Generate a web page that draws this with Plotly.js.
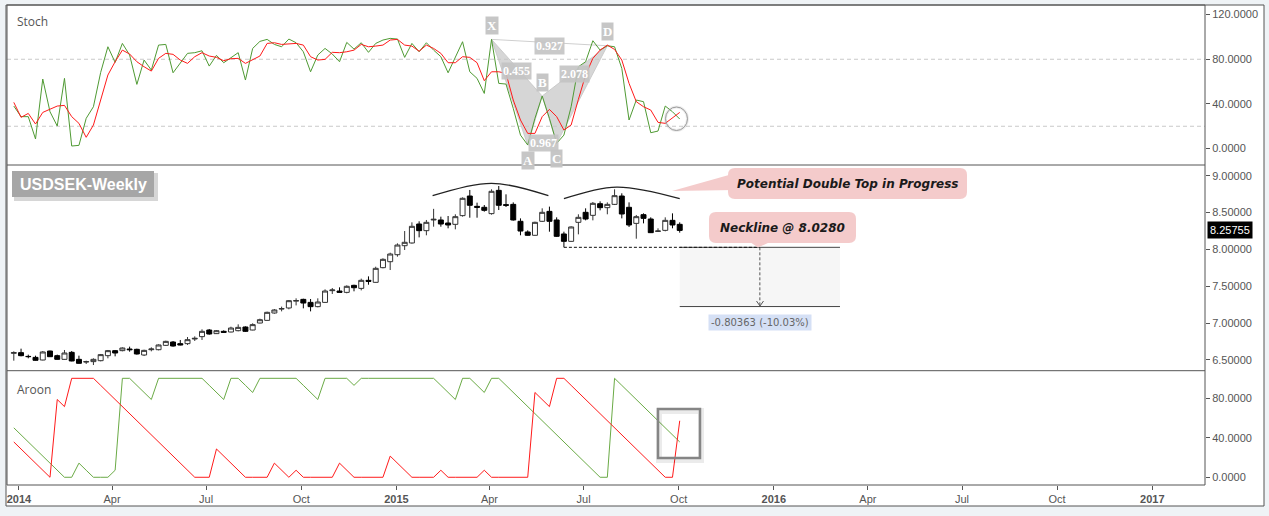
<!DOCTYPE html>
<html><head><meta charset="utf-8">
<script src="https://cdn.plot.ly/plotly-3.0.1.min.js"></script>
<style>html,body{margin:0;padding:0;background:#eff3f6;}#chart{width:1269px;height:516px;}</style>
</head><body><div id="chart"></div>
<script>
// ---------- DATA ----------
const dates = ['2013-12-27','2014-01-03','2014-01-10','2014-01-17','2014-01-24','2014-01-31','2014-02-07','2014-02-14','2014-02-21','2014-02-28',
'2014-03-07','2014-03-14','2014-03-21','2014-03-28','2014-04-04','2014-04-11','2014-04-18','2014-04-25','2014-05-02','2014-05-09',
'2014-05-16','2014-05-23','2014-05-30','2014-06-06','2014-06-13','2014-06-20','2014-06-27','2014-07-04','2014-07-11','2014-07-18',
'2014-07-25','2014-08-01','2014-08-08','2014-08-15','2014-08-22','2014-08-29','2014-09-05','2014-09-12','2014-09-19','2014-09-26',
'2014-10-03','2014-10-10','2014-10-17','2014-10-24','2014-10-31','2014-11-07','2014-11-14','2014-11-21','2014-11-28','2014-12-05',
'2014-12-12','2014-12-19','2014-12-26','2015-01-02','2015-01-09','2015-01-16','2015-01-23','2015-01-30','2015-02-06','2015-02-13',
'2015-02-20','2015-02-27','2015-03-06','2015-03-13','2015-03-20','2015-03-27','2015-04-03','2015-04-10','2015-04-17','2015-04-24',
'2015-05-01','2015-05-08','2015-05-15','2015-05-22','2015-05-29','2015-06-05','2015-06-12','2015-06-19','2015-06-26','2015-07-03',
'2015-07-10','2015-07-17','2015-07-24','2015-07-31','2015-08-07','2015-08-14','2015-08-21','2015-08-28','2015-09-04','2015-09-11',
'2015-09-18','2015-09-25','2015-10-02'];

const open = [6.590,6.599,6.548,6.535,6.499,6.621,6.558,6.508,6.603,6.508,
6.472,6.477,6.490,6.558,6.626,6.626,6.648,6.644,6.567,6.639,
6.639,6.698,6.743,6.721,6.721,6.784,6.816,6.906,6.857,6.888,
6.879,6.897,6.947,6.906,7.001,7.037,7.137,7.191,7.205,7.298,
7.322,7.281,7.223,7.281,7.440,7.435,7.417,7.512,7.471,7.580,
7.553,7.752,7.833,7.928,8.050,8.087,8.344,8.254,8.399,8.399,
8.358,8.340,8.458,8.724,8.584,8.571,8.485,8.801,8.607,8.611,
8.381,8.236,8.191,8.381,8.516,8.399,8.209,8.109,8.367,8.503,
8.462,8.620,8.566,8.611,8.724,8.571,8.353,8.471,8.412,8.245,
8.258,8.394,8.340];
const high = [6.617,6.653,6.572,6.558,6.621,6.626,6.572,6.635,6.621,6.558,
6.490,6.522,6.581,6.635,6.635,6.671,6.680,6.653,6.639,6.671,
6.712,6.761,6.757,6.771,6.811,6.820,6.915,6.920,6.906,6.902,
6.951,6.983,6.956,6.997,7.060,7.155,7.191,7.223,7.313,7.336,
7.331,7.327,7.336,7.458,7.476,7.485,7.512,7.521,7.603,7.634,
7.765,7.879,7.955,8.082,8.249,8.367,8.381,8.399,8.550,8.444,
8.453,8.476,8.706,8.806,8.634,8.602,8.815,8.860,8.747,8.638,
8.421,8.258,8.376,8.557,8.580,8.435,8.240,8.313,8.476,8.557,
8.643,8.652,8.638,8.815,8.761,8.638,8.467,8.489,8.435,8.286,
8.435,8.489,8.367];
const low = [6.490,6.549,6.522,6.490,6.495,6.540,6.504,6.504,6.481,6.449,
6.445,6.431,6.481,6.522,6.549,6.617,6.612,6.572,6.553,6.617,
6.630,6.689,6.680,6.698,6.703,6.757,6.771,6.843,6.852,6.870,
6.875,6.888,6.879,6.902,6.997,7.033,7.128,7.159,7.187,7.240,
7.200,7.159,7.214,7.277,7.395,7.413,7.404,7.431,7.444,7.521,
7.548,7.743,7.720,7.901,7.992,8.078,8.163,8.191,8.308,8.308,
8.286,8.272,8.444,8.430,8.430,8.512,8.471,8.534,8.575,8.390,
8.191,8.186,8.186,8.372,8.240,8.168,8.028,8.105,8.204,8.394,
8.394,8.530,8.476,8.602,8.421,8.304,8.145,8.353,8.222,8.236,
8.245,8.286,8.227];
const close = [6.599,6.558,6.545,6.495,6.608,6.544,6.508,6.594,6.486,6.454,
6.477,6.508,6.572,6.626,6.594,6.662,6.639,6.581,6.630,6.648,
6.703,6.752,6.689,6.703,6.775,6.793,6.888,6.852,6.897,6.875,
6.933,6.942,6.888,6.979,7.046,7.146,7.178,7.196,7.304,7.306,
7.272,7.223,7.286,7.435,7.449,7.417,7.499,7.480,7.580,7.566,
7.743,7.865,7.937,8.059,8.096,8.313,8.254,8.367,8.408,8.344,
8.331,8.444,8.693,8.598,8.571,8.530,8.788,8.598,8.598,8.399,
8.249,8.191,8.367,8.503,8.381,8.177,8.109,8.304,8.435,8.412,
8.625,8.566,8.611,8.729,8.480,8.331,8.444,8.421,8.227,8.249,
8.394,8.331,8.25755];

const stochK = [38.1,28.6,28.6,8.6,62.3,33.0,20.2,62.9,2.3,2.9,
27.1,37.5,68.2,91.2,77.2,94.2,83.8,57.5,79.3,70.3,
92.7,93.3,67.9,76.3,85.3,85.9,87.6,73.9,83.5,76.9,
81.7,85.9,61.4,89.7,96.0,97.8,93.3,91.2,98.1,94.8,
86.7,68.8,83.8,89.7,84.7,77.8,95.1,89.1,94.8,86.2,
94.2,97.2,98.7,98.1,81.7,94.2,86.7,94.8,88.2,82.3,
67.9,82.3,95.7,68.8,62.9,49.4,97.8,58.4,57.8,36.0,
12.1,3.2,27.1,47.1,27.1,4.7,12.1,37.5,73.3,77.8,
96.6,88.2,92.1,91.2,71.8,25.6,43.5,42.0,14.2,15.7,
38.1,33.0,26.5];
const stochD = [41.4,28.0,31.5,22.0,32.4,35.1,38.1,38.7,28.6,22.6,
10.1,21.1,43.5,65.9,77.8,88.2,84.7,77.8,73.3,69.4,
80.8,85.3,84.4,79.3,76.3,82.3,85.9,82.9,81.7,78.7,
80.5,80.8,76.3,79.3,82.9,94.2,94.8,93.3,93.6,94.2,
92.7,82.3,79.3,79.9,86.2,85.9,86.7,88.2,93.3,91.2,
91.8,92.7,97.2,97.8,92.7,91.8,87.2,92.7,89.7,85.3,
76.9,76.9,82.3,81.7,76.9,60.8,68.8,68.8,67.4,43.5,
25.6,13.6,13.6,28.6,35.1,28.6,16.6,21.1,44.1,65.9,
80.8,88.2,92.7,88.8,79.3,58.4,42.0,37.5,34.5,23.5,
22.6,27.4,32.4];

const aroonUp = [50,42.9,35.7,28.6,21.4,14.3,7.1,0,0,14.3,
7.1,0,0,0,7.1,100,100,92.9,85.7,78.6,
100,100,100,100,100,100,100,92.9,85.7,78.6,
100,100,92.9,85.7,100,100,100,100,100,100,
92.9,85.7,78.6,100,100,100,100,92.9,100,100,
100,100,100,100,100,100,100,100,100,92.9,
85.7,78.6,100,100,92.9,85.7,100,100,92.9,85.7,
78.6,71.4,64.3,57.1,50,42.9,35.7,28.6,21.4,14.3,
7.1,0,0,100,92.9,85.7,78.6,71.4,64.3,57.1,
50,42.9,35.7];
const aroonDown = [35.7,28.6,21.4,14.3,7.1,0,78.6,71.4,100,100,
100,100,92.9,85.7,78.6,71.4,64.3,57.1,50,42.9,
35.7,28.6,21.4,14.3,7.1,0,0,0,28.6,21.4,
14.3,7.1,0,0,0,0,14.3,7.1,0,7.1,
0,0,0,0,0,14.3,7.1,0,0,0,
0,0,21.4,14.3,7.1,0,0,0,0,7.1,
0,0,0,0,0,7.1,0,0,0,0,
0,0,85.7,78.6,71.4,100,100,92.9,85.7,78.6,
71.4,64.3,57.1,50,42.9,35.7,28.6,21.4,14.3,7.1,
0,0,57.1];

const xTickVals = ['2014-01-01','2014-04-01','2014-07-01','2014-10-01','2015-01-01','2015-04-01','2015-07-01','2015-10-01',
'2016-01-01','2016-04-01','2016-07-01','2016-10-01','2017-01-01'];
const xTickText = ['<b>2014</b>','Apr','Jul','Oct','<b>2015</b>','Apr','Jul','Oct','<b>2016</b>','Apr','Jul','Oct','<b>2017</b>'];
const stochTicks = [0,40,80,120];
const stochLevels = [20,80];
const priceTicks = [6.5,7.0,7.5,8.0,8.5,9.0];
const aroonTicks = [0,40,80];

const necklineValue = 8.0280;
const targetMove = -0.80363;
const targetPct = -10.03;
const measureDates = ['2015-10-02','2016-03-05'];

const patternNames = ['X','A','B','C','D'];
const patternIdx = [66,71,73,75,82];
const patternRatios = ['0.927','0.455','2.078','0.967'];
const patternRatioLegs = [['X','D'],['X','B'],['B','D'],['A','C']];

const arc1Dates = ['2015-02-05','2015-04-03','2015-05-28'];
const arc1Prices = [8.728,8.897,8.728];
const arc2Dates = ['2015-06-12','2015-08-02','2015-10-02'];
const arc2Prices = [8.688,8.846,8.688];

const titleText = 'USDSEK-Weekly';
const calloutTop = 'Potential Double Top in Progress';

// ---------- helpers (reference pixel -> paper) ----------
const L0 = 7, PW = 1198, T0 = 5, PH = 480;
const px = x => (x - L0) / PW;
const py = y => (T0 + PH - y) / PH;
function roundRect(x0, y0, x1, y1, r) {
  const a = px(x0), b = px(x1), c = py(y0), d = py(y1);
  const rx = r / PW, ry = r / PH;
  return `M${a+rx},${c} L${b-rx},${c} Q${b},${c} ${b},${c-ry} L${b},${d+ry} Q${b},${d} ${b-rx},${d} L${a+rx},${d} Q${a},${d} ${a},${d+ry} L${a},${c-ry} Q${a},${c} ${a+rx},${c} Z`;
}
function poly(pts) { return 'M' + pts.map(p => px(p[0]) + ',' + py(p[1])).join(' L') + ' Z'; }
function midDate(a, b) {
  return new Date((Date.parse(a) + Date.parse(b)) / 2).toISOString().slice(0, 19).replace('T', ' ');
}

const axisFont = {family: 'Liberation Sans, Arial, sans-serif', size: 11, color: '#555'};
const frameColor = '#555';

// ---------- traces ----------
const pt = {};
patternNames.forEach((n, j) => { pt[n] = {x: dates[patternIdx[j]], y: stochK[patternIdx[j]]}; });
const patFill = 'rgba(196,196,196,0.7)';

const traces = [
  {type:'scatter', mode:'lines', x:[pt.X.x,pt.A.x,pt.B.x,pt.X.x], y:[pt.X.y,pt.A.y,pt.B.y,pt.X.y], fill:'toself', fillcolor:patFill,
   line:{color:'rgba(200,200,200,0.9)', width:1}, xaxis:'x', yaxis:'y', hoverinfo:'skip'},
  {type:'scatter', mode:'lines', x:[pt.B.x,pt.C.x,pt.D.x,pt.B.x], y:[pt.B.y,pt.C.y,pt.D.y,pt.B.y], fill:'toself', fillcolor:patFill,
   line:{color:'rgba(200,200,200,0.9)', width:1}, xaxis:'x', yaxis:'y', hoverinfo:'skip'},
  {type:'scatter', mode:'lines', x:[pt.X.x,pt.D.x], y:[pt.X.y,pt.D.y], line:{color:'#cfcfcf', width:1}, xaxis:'x', yaxis:'y', hoverinfo:'skip'},
  {type:'scatter', mode:'lines', x:[pt.A.x,pt.C.x], y:[pt.A.y,pt.C.y], line:{color:'#cfcfcf', width:1}, xaxis:'x', yaxis:'y', hoverinfo:'skip'},
  {type:'scatter', mode:'lines', x:dates, y:stochK, line:{color:'#4f9a33', width:1}, xaxis:'x', yaxis:'y', name:'%K'},
  {type:'scatter', mode:'lines', x:dates, y:stochD, line:{color:'#ff1a1a', width:1}, xaxis:'x', yaxis:'y', name:'%D'},
  {type:'candlestick', x:dates, open:open, high:high, low:low, close:close, xaxis:'x', yaxis:'y2', whiskerwidth:0,
   increasing:{line:{color:'#333', width:1}, fillcolor:'#ffffff'},
   decreasing:{line:{color:'#000', width:1}, fillcolor:'#000000'}, name:'USDSEK'},
  {type:'scatter', mode:'lines', x:arc1Dates, y:arc1Prices, line:{color:'#222', width:1.3, shape:'spline'}, xaxis:'x', yaxis:'y2', hoverinfo:'skip'},
  {type:'scatter', mode:'lines', x:arc2Dates, y:arc2Prices, line:{color:'#222', width:1.3, shape:'spline'}, xaxis:'x', yaxis:'y2', hoverinfo:'skip'},
  {type:'scatter', mode:'lines', x:dates, y:aroonUp, line:{color:'#6aaa45', width:1}, xaxis:'x', yaxis:'y3', name:'Aroon Up'},
  {type:'scatter', mode:'lines', x:dates, y:aroonDown, line:{color:'#ff1a1a', width:1}, xaxis:'x', yaxis:'y3', name:'Aroon Down'}
];

// ---------- shapes ----------
const targetValue = necklineValue + targetMove;
const arrowDate = midDate(measureDates[0], measureDates[1]);
const shapes = [
  {type:'rect', xref:'paper', yref:'paper', x0:px(6), x1:px(1264), y0:py(506), y1:py(5), fillcolor:'#ffffff', line:{color:frameColor, width:1}, layer:'below'},
  ...stochLevels.map(v => ({type:'line', xref:'paper', yref:'y', x0:0, x1:1, y0:v, y1:v, line:{color:'#c9c9c9', width:1, dash:'4px,3px'}, layer:'below'})),
  {type:'rect', xref:'x', yref:'y2', x0:measureDates[0], x1:measureDates[1], y0:targetValue, y1:necklineValue, fillcolor:'#f6f6f6', line:{width:0}, layer:'below'},
  {type:'line', xref:'x', yref:'y2', x0:measureDates[0], x1:measureDates[1], y0:necklineValue, y1:necklineValue, line:{color:'#444', width:1}},
  {type:'line', xref:'x', yref:'y2', x0:measureDates[0], x1:measureDates[1], y0:targetValue, y1:targetValue, line:{color:'#444', width:1}},
  {type:'line', xref:'x', yref:'y2', x0:dates[76], x1:arrowDate, y0:necklineValue, y1:necklineValue, line:{color:'#111', width:1, dash:'3px,2px'}},
  {type:'line', xref:'x', yref:'y2', x0:arrowDate, x1:arrowDate, y0:necklineValue, y1:targetValue, line:{color:'#555', width:1, dash:'3px,2px'}},
  {type:'path', xref:'paper', yref:'paper', path:`M${px(756.5)},${py(301)} L${px(760)},${py(306)} L${px(763.5)},${py(301)}`, line:{color:'#555', width:1}},
  // frame of plot area & separators
  {type:'rect', xref:'paper', yref:'paper', x0:0, x1:1, y0:0, y1:1, line:{color:frameColor, width:1}, fillcolor:'rgba(0,0,0,0)'},
  {type:'line', xref:'paper', yref:'paper', x0:0, x1:1, y0:py(165), y1:py(165), line:{color:frameColor, width:1}},
  {type:'line', xref:'paper', yref:'paper', x0:0, x1:1, y0:py(370.7), y1:py(370.7), line:{color:frameColor, width:1}},
  // title box
  {type:'rect', xref:'paper', yref:'paper', x0:px(14), x1:px(158), y0:py(201), y1:py(173), fillcolor:'rgba(0,0,0,0.16)', line:{width:0}},
  {type:'rect', xref:'paper', yref:'paper', x0:px(12), x1:px(154), y0:py(197), y1:py(171), fillcolor:'#a6a6a6', line:{width:0}},
  // callout bubbles
  {type:'path', xref:'paper', yref:'paper', path:poly([[672,191],[736,173],[736,190]]), fillcolor:'#f4cbcb', line:{width:0}},
  {type:'path', xref:'paper', yref:'paper', path:roundRect(728,168,967,199,7), fillcolor:'#f4cbcb', line:{width:0}},
  {type:'path', xref:'paper', yref:'paper', path:poly([[750,242],[758,247.5],[770,242]]), fillcolor:'#f4cbcb', line:{width:0}},
  {type:'path', xref:'paper', yref:'paper', path:roundRect(709,212,856,243,7), fillcolor:'#f4cbcb', line:{width:0}},
  // highlight circle on stoch
  {type:'circle', xref:'paper', yref:'paper', x0:px(665.5), x1:px(687.5), y0:py(130.5), y1:py(107), line:{color:'rgba(0,0,0,0.07)', width:3}},
  {type:'circle', xref:'paper', yref:'paper', x0:px(665.5), x1:px(687.5), y0:py(130.5), y1:py(107), line:{color:'#9a9a9a', width:1}},
  // highlight box on aroon
  {type:'rect', xref:'paper', yref:'paper', x0:px(659), x1:px(701), y0:py(460), y1:py(411), line:{color:'rgba(0,0,0,0.08)', width:6}},
  {type:'rect', xref:'paper', yref:'paper', x0:px(658), x1:px(700), y0:py(458), y1:py(409), line:{color:'#858585', width:2.5}}
];

// ---------- annotations ----------
const patLabelFont = {family:'Liberation Serif, DejaVu Serif, serif', size:13, color:'#ffffff'};
const annotations = [
  {xref:'paper', yref:'paper', x:px(15), y:py(22), xanchor:'left', yanchor:'middle', showarrow:false, text:'Stoch',
   font:{family:'Open Sans, sans-serif', size:12, color:'#555'}},
  {xref:'paper', yref:'paper', x:px(15), y:py(389), xanchor:'left', yanchor:'middle', showarrow:false, text:'Aroon',
   font:{family:'Open Sans, sans-serif', size:12, color:'#555'}},
  {xref:'paper', yref:'paper', x:px(83), y:py(184), xanchor:'center', yanchor:'middle', showarrow:false, text:'<b>'+titleText+'</b>',
   font:{family:'Liberation Sans, Arial, sans-serif', size:16, color:'#ffffff'}},
  {xref:'paper', yref:'paper', x:px(847.5), y:py(184), xanchor:'center', yanchor:'middle', showarrow:false, text:'<b><i>'+calloutTop+'</i></b>',
   font:{family:'DejaVu Sans, Verdana, sans-serif', size:12, color:'#1a1a1a'}},
  {xref:'paper', yref:'paper', x:px(782.5), y:py(228), xanchor:'center', yanchor:'middle', showarrow:false, text:'<b><i>Neckline @ '+necklineValue.toFixed(4)+'</i></b>',
   font:{family:'DejaVu Sans, Verdana, sans-serif', size:12, color:'#1a1a1a'}},
  {xref:'x', yref:'y2', x:arrowDate, y:targetValue, yshift:-16, xanchor:'center', yanchor:'middle', showarrow:false,
   text:targetMove.toFixed(5)+' ('+targetPct.toFixed(2)+'%)', bgcolor:'#d5e0f5', borderpad:2,
   font:{family:'DejaVu Sans, Verdana, sans-serif', size:10, color:'#666'}},
  {xref:'paper', yref:'y2', x:1, y:close[close.length-1], xanchor:'left', yanchor:'middle', xshift:2, showarrow:false,
   text:close[close.length-1].toFixed(5), bgcolor:'#000', borderpad:2,
   font:{family:'Liberation Sans, Arial, sans-serif', size:11, color:'#ffffff'}}
];
patternNames.forEach(n => {
  const up = (n === 'X' || n === 'B' || n === 'D');
  annotations.push({xref:'x', yref:'y', x:pt[n].x, y:pt[n].y, yshift: up ? 14 : -15, showarrow:false,
    text:'<b>'+n+'</b>', bgcolor:'rgba(195,195,195,0.95)', borderpad:1, font:patLabelFont});
});
patternRatios.forEach((r, j) => {
  const [a, b] = patternRatioLegs[j];
  const isAC = (a === 'A');
  annotations.push({xref:'x', yref:'y', x:midDate(pt[a].x, pt[b].x), y:(pt[a].y + pt[b].y) / 2, yshift: isAC ? 1 : -3,
    xshift: isAC ? 1 : 0, showarrow:false,
    text:'<b>'+r+'</b>', bgcolor:'rgba(195,195,195,0.9)', borderpad:1,
    font:{family:'Liberation Serif, DejaVu Serif, serif', size:12, color:'#ffffff'}});
});

// ---------- layout ----------
const yCommon = {side:'right', anchor:'x', ticks:'outside', ticklen:4, tickcolor:'#555', tickfont:axisFont,
  showgrid:false, zeroline:false, showline:false, fixedrange:true};
const layout = {
  width:1269, height:516, margin:{l:L0, r:1269-L0-PW, t:T0, b:516-T0-PH},
  paper_bgcolor:'#eff3f6', plot_bgcolor:'#ffffff', showlegend:false, boxgap:0.02,
  xaxis:{type:'date', range:['2013-12-20 10:00','2017-02-21'], anchor:'y3', tickvals:xTickVals, ticktext:xTickText,
    ticks:'outside', ticklen:4, tickcolor:'#555', tickfont:axisFont, showgrid:false, zeroline:false,
    showline:false, rangeslider:{visible:false}, fixedrange:true},
  yaxis: Object.assign({}, yCommon, {domain:[py(165),1], range:[-14.7,128.6], tickvals:stochTicks, tickformat:'.4f'}),
  yaxis2: Object.assign({}, yCommon, {domain:[py(370.7),py(165)], range:[6.354,9.145], tickvals:priceTicks, tickformat:'.5f'}),
  yaxis3: Object.assign({}, yCommon, {domain:[0,py(370.7)], range:[-7.8,107.7], tickvals:aroonTicks, tickformat:'.4f'}),
  shapes:shapes, annotations:annotations
};
Plotly.newPlot('chart', traces, layout, {displayModeBar:false, staticPlot:true});
</script></body></html>
